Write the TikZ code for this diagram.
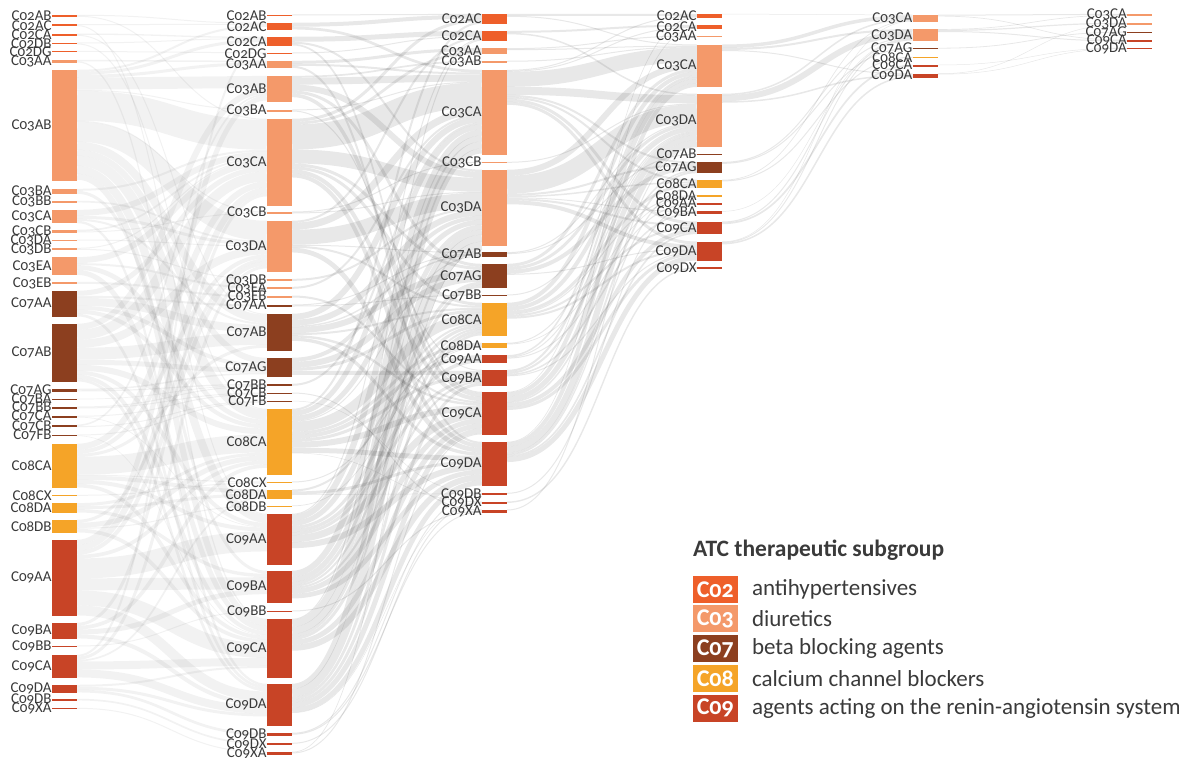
\documentclass[tikz,border=0pt]{standalone}
\usepackage{fontspec}
\setmainfont{Carlito}[Numbers=OldStyle]
\usetikzlibrary{positioning,backgrounds}

\definecolor{c02}{HTML}{EE5F2A}
\definecolor{c03}{HTML}{F4996A}
\definecolor{c07}{HTML}{8C3F1F}
\definecolor{c08}{HTML}{F5A428}
\definecolor{c09}{HTML}{C84426}
\definecolor{labelgrey}{HTML}{3A3A3A}

\tikzset{
  bar/.style={rectangle, draw=none, inner sep=0pt, minimum width=25pt, label distance=2pt},
  lbl/.style={font=\fontsize{15}{15}\selectfont, text=labelgrey, inner sep=0pt},
  faintflow/.style={draw=black, draw opacity=0.05},
  greyflow/.style={draw=black, draw opacity=0.09},
  keybox/.style={rectangle, inner sep=0pt, minimum width=44.7pt, minimum height=26.7pt,
    text=white, font=\bfseries\fontsize{24}{24}\selectfont},
  keytext/.style={inner sep=0pt, text=labelgrey, font=\fontsize{23}{23}\selectfont}
}

% stacked link: source, target, width, style
\newcommand\flowlink[4]{%
  \ifcsname so-#1\endcsname\else\expandafter\gdef\csname so-#1\endcsname{0}\fi
  \ifcsname ti-#2\endcsname\else\expandafter\gdef\csname ti-#2\endcsname{0}\fi
  \pgfmathsetmacro\ya{\csname so-#1\endcsname+#3/2}%
  \pgfmathsetmacro\yb{\csname ti-#2\endcsname+#3/2}%
  \draw[#4, line width=#3pt] ([yshift=-\ya pt]#1.north east)
    .. controls +(95,0) and +(-95,0) .. ([yshift=-\yb pt]#2.north west);
  \pgfmathsetmacro\ya{\csname so-#1\endcsname+#3}%
  \expandafter\xdef\csname so-#1\endcsname{\ya}%
  \pgfmathsetmacro\yb{\csname ti-#2\endcsname+#3}%
  \expandafter\xdef\csname ti-#2\endcsname{\yb}%
}

\begin{document}
\begin{tikzpicture}[x=1pt, y=-1pt]

  \useasboundingbox (0,0) rectangle (1179,758);

  % first column
  \foreach \n/\y/\h/\col in {C02AB/15.8/1.7/c02, C02AC/25.2/1.7/c02, C02CA/34.7/2/c02,
      C02DB/43.5/1.7/c02, C02DG/51.5/1/c02, C03AA/61.3/2.7/c03, C03AB/125.3/110.7/c03,
      C03BA/191.5/5/c03, C03BB/201.8/1.7/c03, C03CA/216.7/13.3/c03, C03CB/231.3/2.7/c03,
      C03DA/240.2/1/c03, C03DB/249/2/c03, C03EA/266.2/17.7/c03, C03EB/283/2/c03,
      C07AA/303.8/25.7/c07, C07AB/352.8/57.7/c07, C07AG/390.3/2.7/c07, C07BA/399.3/0.8/c07,
      C07BB/407.7/2/c07, C07CA/416.8/1.7/c07, C07CB/426/2.6/c07, C07FB/435.5/1.6/c07,
      C08CA/465.8/43.7/c08, C08CX/495.5/1/c08, C08DA/508/9.4/c08, C08DB/526.3/12.7/c08,
      C09AA/577.8/75.7/c09, C09BA/630.8/15.7/c09, C09BB/646.2/1/c09, C09CA/666.3/22.7/c09,
      C09DA/688.8/7.7/c09, C09DB/699.8/1.7/c09, C09XA/708.5/1/c09}
    \node[bar, fill=\col, minimum height=\h pt, label={[lbl]left:\n}] (A\n) at (64.5,\y) {};

  % second column
  \foreach \n/\y/\h/\col in {C02AB/15.2/1/c02, C02AC/26.3/6.7/c02, C02CA/41.3/8.7/c02,
      C02DG/53.2/1/c02, C03AA/64.5/7/c03, C03AB/89.2/26.3/c03, C03BA/110.7/2/c03,
      C03CA/162.3/86.7/c03, C03CB/212.7/2/c03, C03DA/246.3/50.7/c03, C03DB/280/2/c03,
      C03EA/288/2/c03, C03EB/296.7/2/c03, C07AA/305.7/2/c07, C07AB/332.3/36.7/c07,
      C07AG/367.3/18.7/c07, C07BB/385/2/c07, C07CB/393.2/1/c07, C07FB/401.5/1/c07,
      C08CA/441.8/65.7/c08, C08CX/482.2/1/c08, C08DA/494.2/9/c08, C08DB/506.2/1/c08,
      C09AA/539.3/50.7/c09, C09BA/586.8/31.7/c09, C09BB/611.2/1/c09, C09CA/648.3/58.7/c09,
      C09DA/704.8/41.7/c09, C09DB/734.3/2.7/c09, C09DX/744/2/c09, C09XA/753.3/2.7/c09}
    \node[bar, fill=\col, minimum height=\h pt, label={[lbl]left:\n}] (B\n) at (279.5,\y) {};

  % third column
  \foreach \n/\y/\h/\col in {C02AC/19/10/c02, C02CA/36/10/c02, C03AA/51.2/5.7/c03,
      C03AB/61.8/1.7/c03, C03CA/112.5/85/c03, C03CB/162.5/1/c03, C03DA/207.8/75.7/c03,
      C07AB/254.5/4.4/c07, C07AG/276/24/c07, C07BB/295.2/1/c07, C08CA/319.3/32.7/c08,
      C08DA/345.3/4.7/c08, C09AA/359/7.4/c09, C09BA/378/16/c09, C09CA/413.3/42.7/c09,
      C09DA/463.8/43.7/c09, C09DB/494/2/c09, C09DX/502.7/2/c09, C09XA/511.2/3/c09}
    \node[bar, fill=\col, minimum height=\h pt, label={[lbl]left:\n}] (C\n) at (494.5,\y) {};

  % fourth column
  \foreach \n/\y/\h/\col in {C02AC/15.8/3.7/c02, C02CA/26.8/3.7/c02, C03AA/36.5/1.6/c03,
      C03CA/65.7/42/c03, C03DA/120.3/52.7/c03, C07AB/154.5/1/c07, C07AG/167.7/11.3/c07,
      C08CA/183.8/7.7/c08, C08DA/195.8/1.7/c08, C09AA/203.7/2/c09, C09BA/212.8/3/c09,
      C09CA/228/12.6/c09, C09DA/251.2/19/c09, C09DX/268/1.4/c09}
    \node[bar, fill=\col, minimum height=\h pt, label={[lbl]left:\n}] (D\n) at (709.5,\y) {};

  % fifth column
  \foreach \n/\y/\h/\col in {C03CA/18.3/6.7/c03, C03DA/35/11.4/c03, C07AG/48.5/1/c07,
      C08CA/57.5/1/c08, C09CA/65.8/1.7/c09, C09DA/75.7/4/c09}
    \node[bar, fill=\col, minimum height=\h pt, label={[lbl]left:\n}] (E\n) at (925.2,\y) {};

  % sixth column
  \foreach \n/\y/\h/\col in {C03CA/14.8/1.7/c03, C03DA/23.8/1.7/c03, C07AG/32.3/0.8/c07,
      C09CA/40.8/1.7/c09, C09DA/48.5/1/c09}
    \node[bar, fill=\col, minimum height=\h pt, label={[lbl]left:\n}] (F\n) at (1139.7,\y) {};

  \begin{pgfonlayer}{background}
    % first to second
    \foreach \s/\t/\w in {AC02AB/BC02AC/1, AC02AB/BC03CA/1, AC02AC/BC02AC/1, AC02AC/BC09AA/1,
        AC02CA/BC02CA/1.3, AC02CA/BC07AB/1, AC02DB/BC02CA/1, AC02DB/BC08CA/1, AC02DG/BC02DG/1,
        AC03AA/BC03AA/1.5, AC03AA/BC09CA/1.2,
        AC03AB/BC02AC/2, AC03AB/BC02CA/3, AC03AB/BC03AA/3, AC03AB/BC03AB/12, AC03AB/BC03BA/1,
        AC03AB/BC03CA/30, AC03AB/BC03CB/1, AC03AB/BC03DA/20, AC03AB/BC07AB/8, AC03AB/BC07AG/6,
        AC03AB/BC08CA/10, AC03AB/BC09AA/8, AC03AB/BC09CA/6,
        AC03BA/BC03CA/2, AC03BA/BC09BA/3, AC03BB/BC03DA/1.7,
        AC03CA/BC03CA/6, AC03CA/BC03DA/3, AC03CA/BC07AB/2, AC03CA/BC09DA/2.3,
        AC03CB/BC03CA/1.7, AC03CB/BC03CB/1, AC03DA/BC03DA/1, AC03DB/BC03CA/1, AC03DB/BC03DB/1,
        AC03EA/BC03CA/6, AC03EA/BC03EA/2, AC03EA/BC08CA/4.7, AC03EA/BC09CA/5, AC03EB/BC03EB/2,
        AC07AA/BC03CA/5, AC07AA/BC07AA/2, AC07AA/BC07AB/8, AC07AA/BC07AG/4, AC07AA/BC08CA/4,
        AC07AA/BC09DA/2.7,
        AC07AB/BC03AB/6, AC07AB/BC03CA/10, AC07AB/BC03DA/8, AC07AB/BC07AB/12, AC07AB/BC07AG/5,
        AC07AB/BC08CA/6, AC07AB/BC09AA/4, AC07AB/BC09CA/4, AC07AB/BC09DA/2.7,
        AC07AG/BC07AG/1.5, AC07AG/BC07BB/1.2, AC07BA/BC07BB/0.7, AC07BB/BC07BB/1, AC07BB/BC07CB/1,
        AC07CA/BC07CB/1, AC07CA/BC09AA/0.7, AC07CB/BC03AB/1.6, AC07CB/BC07FB/1,
        AC07FB/BC07FB/1, AC07FB/BC09CA/0.6,
        AC08CA/BC03CA/6, AC08CA/BC03DA/4, AC08CA/BC07AB/3, AC08CA/BC08CA/18, AC08CA/BC08CX/1,
        AC08CA/BC08DA/4, AC08CA/BC09AA/4, AC08CA/BC09CA/3.7, AC08CX/BC08CX/1,
        AC08DA/BC08CA/3, AC08DA/BC08DA/3, AC08DA/BC09BA/3.4,
        AC08DB/BC03DA/3, AC08DB/BC08CA/5, AC08DB/BC08DB/1, AC08DB/BC09CA/3.7,
        AC09AA/BC03AB/5, AC09AA/BC03CA/6, AC09AA/BC03DA/4, AC09AA/BC08CA/3.7, AC09AA/BC09AA/20,
        AC09AA/BC09BA/12, AC09AA/BC09CA/15, AC09AA/BC09DA/10,
        AC09BA/BC03CA/3, AC09BA/BC08CA/3.7, AC09BA/BC09BA/5, AC09BA/BC09DA/4, AC09BB/BC09BB/1,
        AC09CA/BC02CA/2, AC09CA/BC03DA/3, AC09CA/BC08DA/1.7, AC09CA/BC09CA/8, AC09CA/BC09DA/8,
        AC09DA/BC09CA/2, AC09DA/BC09DA/3, AC09DA/BC09DB/2.7, AC09DB/BC09DX/1.7, AC09XA/BC09XA/1}
      \flowlink{\s}{\t}{\w}{faintflow};

    % second to third
    \foreach \s/\t/\w in {BC02AB/CC02AC/1, BC02AC/CC02AC/4, BC02AC/CC03CA/2.7,
        BC02CA/CC02CA/5, BC02CA/CC03DA/2, BC02CA/CC09CA/1.7, BC02DG/CC02CA/1,
        BC03AA/CC03AA/3, BC03AA/CC03CA/2, BC03AA/CC09DA/2,
        BC03AB/CC03AB/1.7, BC03AB/CC03CA/7, BC03AB/CC03DA/6, BC03AB/CC07AG/3, BC03AB/CC09CA/3.6,
        BC03BA/CC03CA/1, BC03BA/CC09BA/1,
        BC03CA/CC02AC/3, BC03CA/CC03AA/2.7, BC03CA/CC03CA/25, BC03CA/CC03DA/14, BC03CA/CC07AG/3,
        BC03CA/CC08CA/3, BC03CA/CC09CA/4, BC03CA/CC09DA/4,
        BC03CB/CC03CB/1, BC03CB/CC03DA/1,
        BC03DA/CC02CA/2, BC03DA/CC03CA/7, BC03DA/CC03DA/15, BC03DA/CC07AB/1, BC03DA/CC08CA/2,
        BC03DA/CC09DA/4.7,
        BC03DB/CC03DA/2, BC03EA/CC03CA/2, BC03EB/CC09CA/2, BC07AA/CC07AB/1, BC07AA/CC07BB/1,
        BC07AB/CC03CA/6, BC07AB/CC03DA/6, BC07AB/CC07AB/1.4, BC07AB/CC07AG/6, BC07AB/CC08CA/2,
        BC07AB/CC09CA/2.4, BC07AB/CC09DA/3.3,
        BC07AG/CC03DA/4, BC07AG/CC07AG/6, BC07AG/CC08CA/3, BC07AG/CC09BA/4,
        BC07BB/CC03CA/2, BC07CB/CC09XA/1, BC07FB/CC09DB/0.5,
        BC08CA/CC02AC/2, BC08CA/CC03CA/5, BC08CA/CC03DA/5, BC08CA/CC07AB/1, BC08CA/CC08CA/10,
        BC08CA/CC08DA/3, BC08CA/CC09AA/4, BC08CA/CC09BA/3, BC08CA/CC09CA/6, BC08CA/CC09DA/5,
        BC08CA/CC09DX/0.5,
        BC08CX/CC08DA/1, BC08DA/CC08CA/2, BC08DA/CC09DA/3, BC08DA/CC09DB/0.5, BC08DB/CC08DA/0.7,
        BC09AA/CC02CA/1, BC09AA/CC03CA/6, BC09AA/CC03DA/5, BC09AA/CC08CA/3, BC09AA/CC09AA/3.4,
        BC09AA/CC09BA/3, BC09AA/CC09CA/7, BC09AA/CC09DA/6,
        BC09BA/CC03CA/6, BC09BA/CC03DA/5, BC09BA/CC07AG/3, BC09BA/CC08CA/2, BC09BA/CC09BA/2,
        BC09BA/CC09CA/5, BC09BA/CC09DA/4.7, BC09BB/CC09XA/1,
        BC09CA/CC02CA/1, BC09CA/CC03CA/7, BC09CA/CC03DA/7, BC09CA/CC07AG/3, BC09CA/CC08CA/3,
        BC09CA/CC09CA/5, BC09CA/CC09DA/6,
        BC09DA/CC03CA/5, BC09DA/CC03DA/8, BC09DA/CC08CA/2.7, BC09DA/CC09BA/3, BC09DA/CC09CA/5,
        BC09DA/CC09DA/5, BC09DA/CC09DX/0.5,
        BC09DB/CC09DB/1, BC09DB/CC09XA/1, BC09DX/CC09DX/1, BC09XA/CC03DA/0.7, BC09XA/CC09CA/1}
      \flowlink{\s}{\t}{\w}{greyflow};

    % third to fourth
    \foreach \s/\t/\w in {CC02AC/DC02AC/2, CC02AC/DC03CA/1, CC02CA/DC02CA/2, CC02CA/DC03DA/1.5,
        CC03AA/DC03AA/1, CC03AA/DC03CA/1, CC03AB/DC03CA/1,
        CC03CA/DC02AC/1, CC03CA/DC02CA/1, CC03CA/DC03CA/15, CC03CA/DC03DA/8, CC03CA/DC07AG/2,
        CC03CA/DC08CA/2, CC03CA/DC09CA/3, CC03CA/DC09DA/3, CC03CB/DC03DA/1,
        CC03DA/DC03CA/6, CC03DA/DC03DA/18, CC03DA/DC07AG/2, CC03DA/DC08CA/1.5, CC03DA/DC09BA/1,
        CC03DA/DC09CA/2, CC03DA/DC09DA/4,
        CC07AB/DC03DA/1, CC07AB/DC07AB/1,
        CC07AG/DC03CA/3, CC07AG/DC03DA/3, CC07AG/DC07AG/4, CC07AG/DC09DA/1, CC07BB/DC03DA/1,
        CC08CA/DC03CA/4, CC08CA/DC03DA/4, CC08CA/DC08CA/3, CC08CA/DC08DA/1, CC08CA/DC09CA/2,
        CC08CA/DC09DA/2, CC08DA/DC03DA/1, CC08DA/DC08DA/0.7,
        CC09AA/DC03CA/1.5, CC09AA/DC03DA/1, CC09AA/DC09AA/1,
        CC09BA/DC03CA/2, CC09BA/DC03DA/2, CC09BA/DC09BA/1.5, CC09BA/DC09DA/1,
        CC09CA/DC02AC/0.7, CC09CA/DC03CA/4, CC09CA/DC03DA/5, CC09CA/DC07AG/1.5, CC09CA/DC09CA/4,
        CC09CA/DC09DA/3,
        CC09DA/DC02CA/0.7, CC09DA/DC03CA/4, CC09DA/DC03DA/6, CC09DA/DC07AG/1.8, CC09DA/DC08CA/1.2,
        CC09DA/DC09CA/1.6, CC09DA/DC09DA/5,
        CC09DB/DC09AA/1, CC09DX/DC09DX/1.4, CC09XA/DC03DA/1}
      \flowlink{\s}{\t}{\w}{greyflow};

    % fourth to fifth
    \foreach \s/\t/\w in {DC02AC/EC03CA/0.5, DC03CA/EC03CA/3.5, DC03CA/EC03DA/2, DC03CA/EC09DA/1,
        DC03DA/EC03CA/1.5, DC03DA/EC03DA/6, DC03DA/EC09DA/1.5, DC07AG/EC03DA/1, DC07AG/EC07AG/1,
        DC08CA/EC03CA/0.7, DC08CA/EC08CA/1, DC09BA/EC03DA/0.5, DC09CA/EC03DA/1, DC09CA/EC09CA/1.7,
        DC09DA/EC03CA/0.5, DC09DA/EC03DA/0.9, DC09DA/EC09DA/1.5}
      \flowlink{\s}{\t}{\w}{greyflow};

    % fifth to sixth
    \foreach \s/\t/\w in {EC03CA/FC03CA/1, EC03CA/FC09CA/0.7, EC03DA/FC03CA/0.7, EC03DA/FC03DA/1.2,
        EC03DA/FC09CA/1, EC07AG/FC07AG/0.8, EC09CA/FC09DA/0.5, EC09DA/FC03DA/0.5, EC09DA/FC09DA/0.5}
      \flowlink{\s}{\t}{\w}{greyflow};
  \end{pgfonlayer}

  % legend
  \node[anchor=west, inner sep=0pt, text=labelgrey, font=\bfseries\fontsize{23.5}{23.5}\selectfont]
    (keytitle) at (693,550) {ATC therapeutic subgroup};
  \foreach \k/\txt/\y in {02/antihypertensives/589.3, 03/diuretics/618.5,
      07/beta blocking agents/648.5, 08/calcium channel blockers/678.3,
      09/agents acting on the renin-angiotensin system/708.3} {
    \node[keybox, fill=c\k] (key\k) at (715.3,\y) {C\k};
    \node[keytext, anchor=west, right=14pt of key\k] (keytxt\k) {\txt};
  }

\end{tikzpicture}
\end{document}
